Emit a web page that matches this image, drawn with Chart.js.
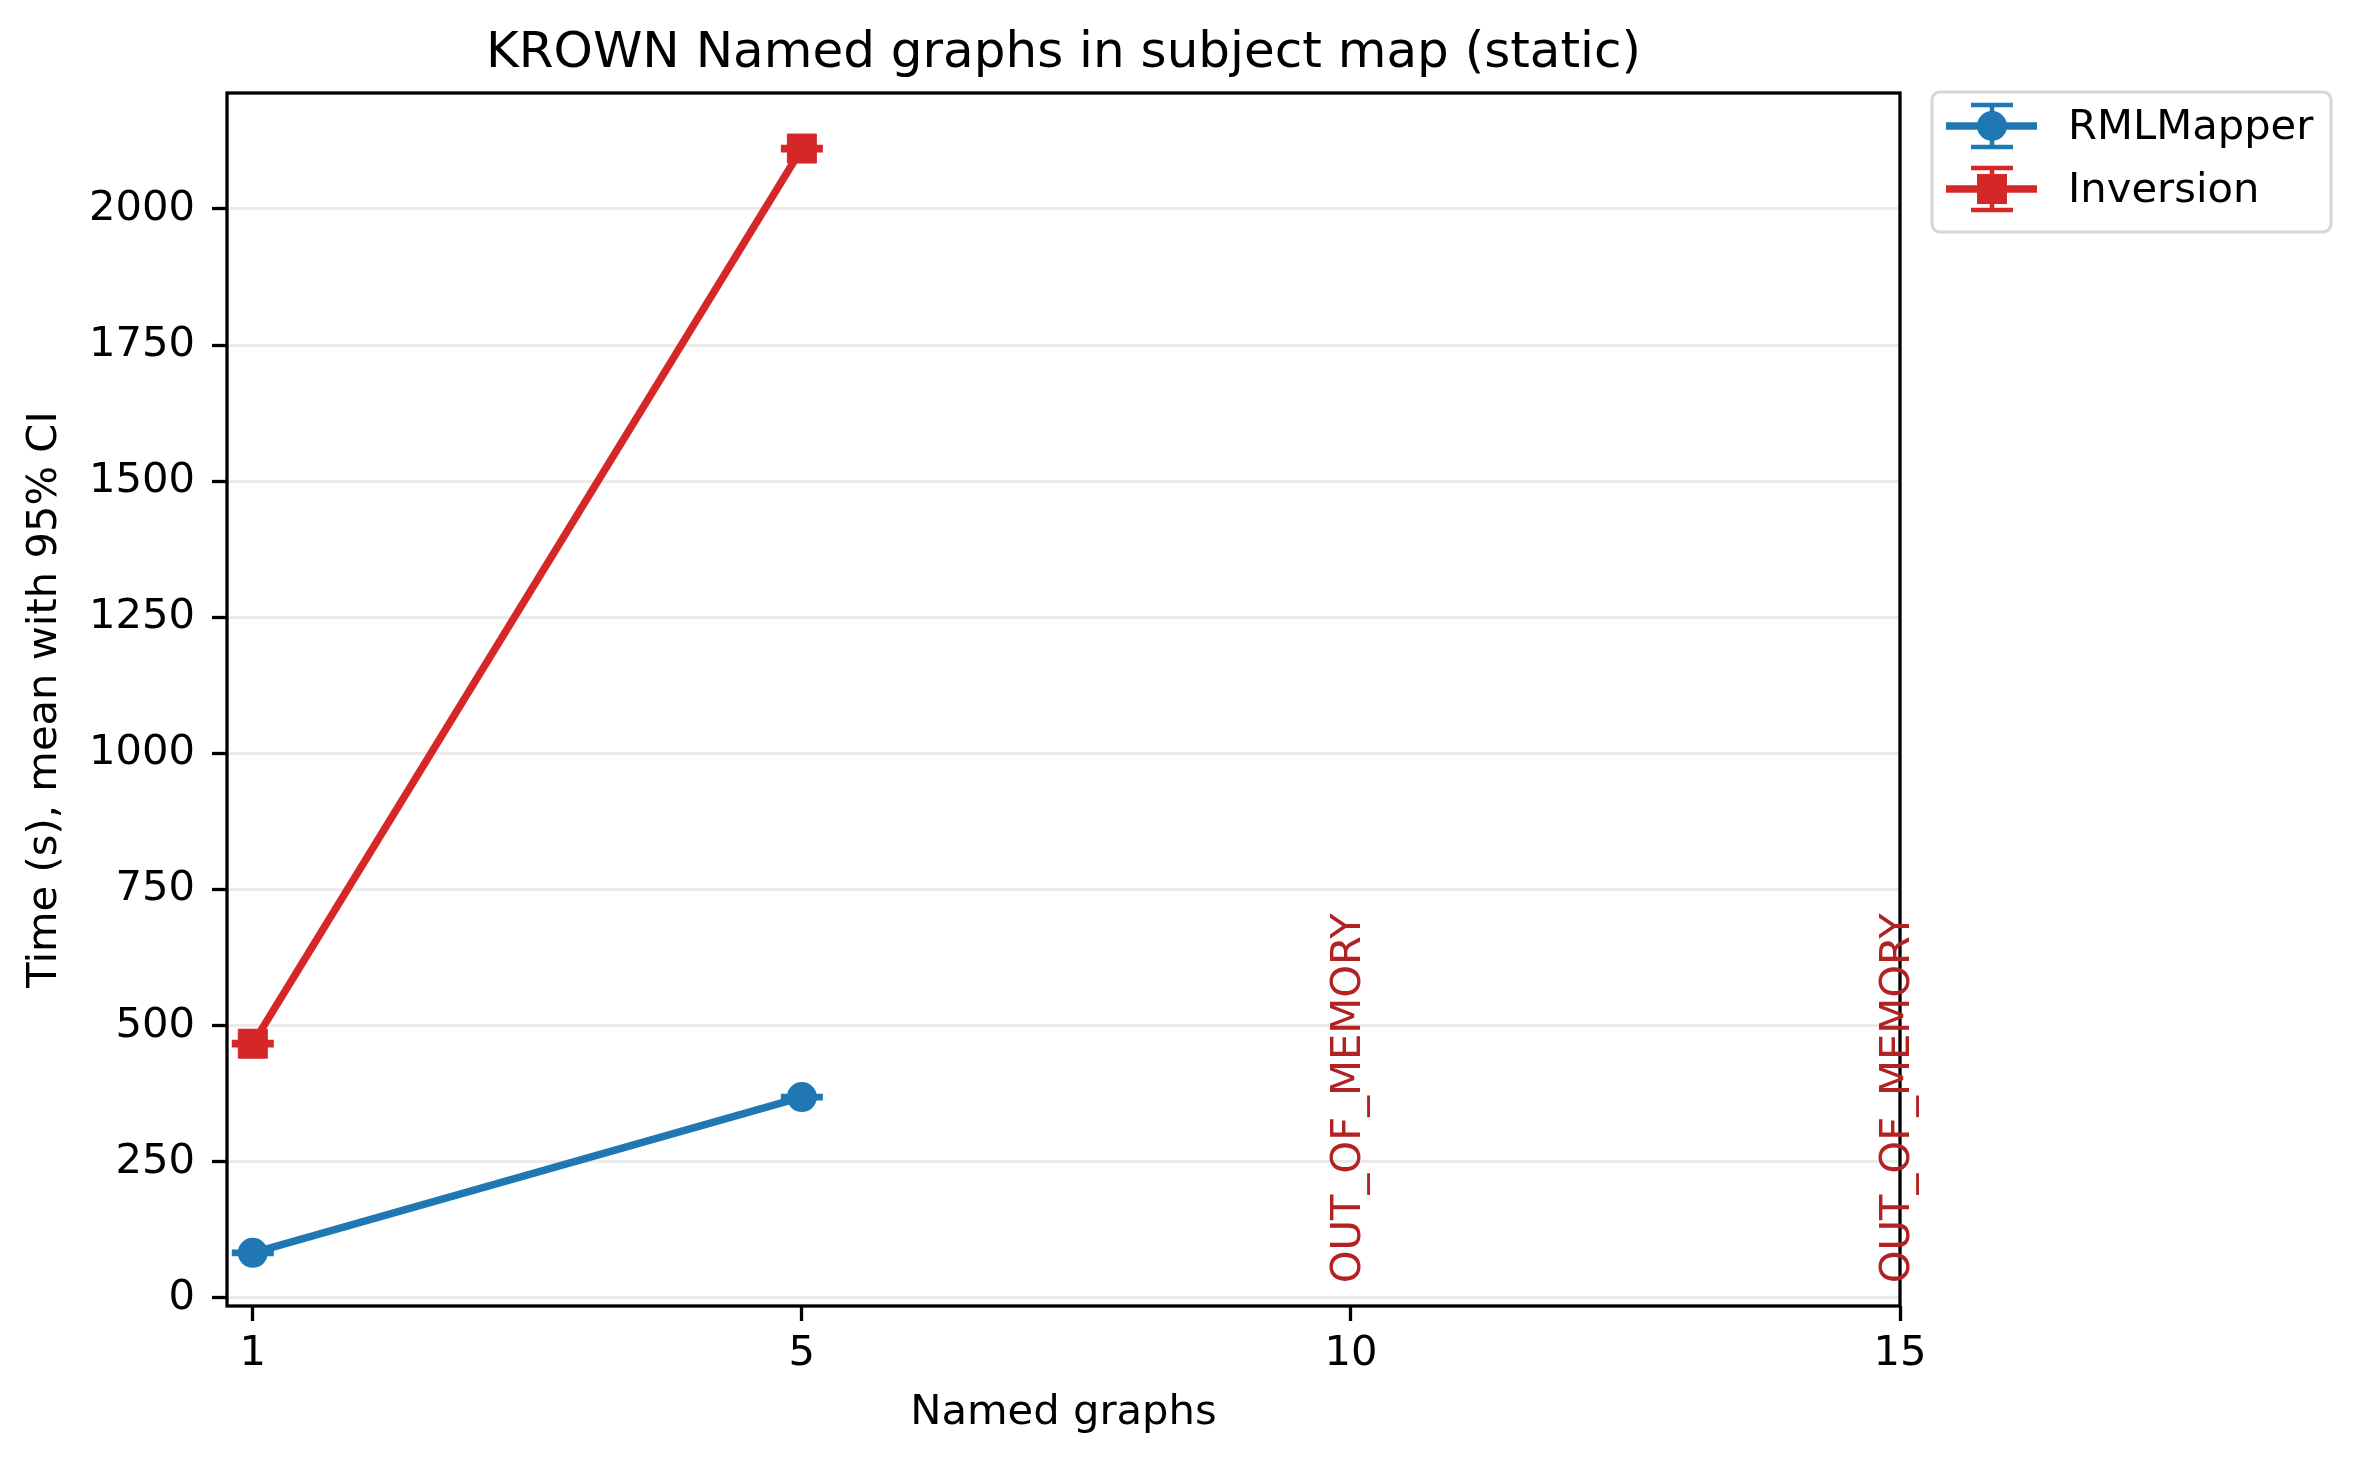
<!DOCTYPE html>
<html>
<head>
<meta charset="utf-8">
<script src="https://cdn.jsdelivr.net/npm/chart.js@4.4.0/dist/chart.umd.min.js"></script>
<style>
  html, body { margin: 0; padding: 0; background: #fff; }
</style>
</head>
<body>
<canvas id="chart" width="2360" height="1468"></canvas>
<script>
// x categories: number of named graphs
var namedGraphs = ['1', '5', '10', '15'];
// mean time (s), null = no result
var rmlMapper = [83, 369, null, null];
var rmlMapperErr = [2, 2, null, null];
var inversion = [467, 2111, null, null];
var inversionErr = [3, 3, null, null];
// runs that crashed
var oomIndex = [2, 3];
var oomLabel = 'OUT_OF_MEMORY';
var oomAt = 27;
// y tick labels
var yTicks = [0, 250, 500, 750, 1000, 1250, 1500, 1750, 2000];

var FONT = "'DejaVu Sans', sans-serif";
var BLUE = '#1f77b4';
var RED = '#d62728';

function toPoints(values) {
  var pts = [];
  values.forEach(function (v, i) {
    if (v != null) pts.push({ x: i, y: v });
  });
  return pts;
}

// error bars, spines, crash labels and legend
var extras = {
  id: 'extras',
  afterDatasetsDraw: function (chart) {
    var ctx = chart.ctx;
    var xs = chart.scales.x, ys = chart.scales.y;
    chart.data.datasets.forEach(function (ds) {
      ctx.save();
      ctx.strokeStyle = ds.borderColor;
      ctx.lineWidth = 4.5;
      ds.errors.forEach(function (e, i) {
        var v = ds.values[i];
        if (v == null) return;
        var px = xs.getPixelForValue(i);
        var lo = ys.getPixelForValue(v - e), hi = ys.getPixelForValue(v + e);
        ctx.beginPath();
        ctx.moveTo(px, lo); ctx.lineTo(px, hi);
        ctx.moveTo(px - 21, lo); ctx.lineTo(px + 21, lo);
        ctx.moveTo(px - 21, hi); ctx.lineTo(px + 21, hi);
        ctx.stroke();
      });
      ctx.restore();
    });
  },
  afterDraw: function (chart) {
    var ctx = chart.ctx, a = chart.chartArea;
    var xs = chart.scales.x, ys = chart.scales.y;

    // box around the plot
    ctx.save();
    ctx.strokeStyle = '#000';
    ctx.lineWidth = 3.3;
    ctx.strokeRect(a.left, a.top, a.right - a.left, a.bottom - a.top);
    ctx.restore();

    // OUT_OF_MEMORY labels
    ctx.save();
    ctx.fillStyle = '#b22222';
    ctx.font = '41.7px ' + FONT;
    ctx.textAlign = 'left';
    ctx.textBaseline = 'middle';
    oomIndex.forEach(function (i) {
      ctx.save();
      ctx.translate(xs.getPixelForValue(i) - 2, ys.getPixelForValue(oomAt));
      ctx.rotate(-Math.PI / 2);
      ctx.fillText(oomLabel, 0, 0);
      ctx.restore();
    });
    ctx.restore();

    // legend
    var lx = 1932, ly = 92, lw = 399, lh = 140;
    ctx.save();
    ctx.fillStyle = 'rgba(255,255,255,0.8)';
    ctx.strokeStyle = '#d6d6d6';
    ctx.lineWidth = 3;
    ctx.beginPath();
    ctx.roundRect(lx, ly, lw, lh, 8);
    ctx.fill();
    ctx.stroke();
    chart.data.datasets.forEach(function (ds, k) {
      var cy = 126 + k * 63, cx = 1992;
      ctx.strokeStyle = ds.borderColor;
      ctx.fillStyle = ds.borderColor;
      ctx.lineWidth = 7.5;
      ctx.beginPath();
      ctx.moveTo(1946, cy); ctx.lineTo(2037, cy);
      ctx.stroke();
      ctx.lineWidth = 4.5;
      ctx.beginPath();
      ctx.moveTo(cx, cy - 21); ctx.lineTo(cx, cy + 21);
      ctx.moveTo(cx - 21, cy - 21); ctx.lineTo(cx + 21, cy - 21);
      ctx.moveTo(cx - 21, cy + 21); ctx.lineTo(cx + 21, cy + 21);
      ctx.stroke();
      ctx.beginPath();
      if (ds.pointStyle === 'circle') {
        ctx.arc(cx, cy, 15, 0, Math.PI * 2);
      } else {
        ctx.rect(cx - 15, cy - 15, 30, 30);
      }
      ctx.fill();
      ctx.fillStyle = '#000';
      ctx.font = '41.7px ' + FONT;
      ctx.textAlign = 'left';
      ctx.textBaseline = 'middle';
      ctx.fillText(ds.label, 2068, cy + 2);
    });
    ctx.restore();
  }
};

var ctx = document.getElementById('chart').getContext('2d');
var myChart = new Chart(ctx, {
  type: 'line',
  data: {
    datasets: [{
      label: 'RMLMapper',
      data: toPoints(rmlMapper),
      values: rmlMapper,
      errors: rmlMapperErr,
      borderColor: BLUE,
      backgroundColor: BLUE,
      borderWidth: 7.5,
      pointStyle: 'circle',
      pointRadius: 14,
      pointBorderWidth: 2,
      pointBackgroundColor: BLUE,
      pointBorderColor: BLUE,
      tension: 0
    }, {
      label: 'Inversion',
      data: toPoints(inversion),
      values: inversion,
      errors: inversionErr,
      borderColor: RED,
      backgroundColor: RED,
      borderWidth: 7.5,
      pointStyle: 'rect',
      pointRadius: 20.5,
      pointBorderWidth: 1,
      pointBackgroundColor: RED,
      pointBorderColor: RED,
      tension: 0
    }]
  },
  options: {
    responsive: false,
    animation: false,
    devicePixelRatio: 1,
    layout: { padding: { left: 0, right: 460, top: 0, bottom: 0 } },
    plugins: {
      legend: { display: false },
      tooltip: { enabled: false },
      title: {
        display: true,
        fullSize: false,
        text: 'KROWN Named graphs in subject map (static)',
        color: '#000',
        font: { family: FONT, size: 50, weight: 'normal' },
        padding: { top: 24, bottom: 9 }
      }
    },
    scales: {
      x: {
        type: 'linear',
        min: -0.047,
        max: 3,
        afterFit: function (s) { s.height = 162; },
        afterBuildTicks: function (s) {
          s.ticks = namedGraphs.map(function (n, i) { return { value: i }; });
        },
        ticks: {
          autoSkip: false,
          maxRotation: 0,
          color: '#000',
          padding: 8,
          font: { family: FONT, size: 41.7 },
          callback: function (v) { return namedGraphs[v]; }
        },
        grid: {
          drawOnChartArea: false,
          tickLength: 15,
          tickWidth: 3.3,
          tickColor: '#000'
        },
        border: { display: false },
        title: {
          display: true,
          text: 'Named graphs',
          color: '#000',
          font: { family: FONT, size: 41.7 },
          padding: { top: 0, bottom: 30 }
        }
      },
      y: {
        min: -14.7,
        max: 2213,
        afterFit: function (s) { s.width = 227; },
        afterBuildTicks: function (s) {
          s.ticks = yTicks.map(function (v) { return { value: v }; });
        },
        ticks: {
          color: '#000',
          padding: 17,
          font: { family: FONT, size: 41.7 },
          callback: function (v) { return String(v); }
        },
        grid: {
          color: '#ebebeb',
          lineWidth: 3,
          tickLength: 15,
          tickWidth: 3.3,
          tickColor: '#000'
        },
        border: { display: false },
        title: {
          display: true,
          text: 'Time (s), mean with 95% CI',
          color: '#000',
          font: { family: FONT, size: 41.7 },
          padding: { top: 20, bottom: 0 }
        }
      }
    }
  },
  plugins: [extras]
});
</script>
</body>
</html>
